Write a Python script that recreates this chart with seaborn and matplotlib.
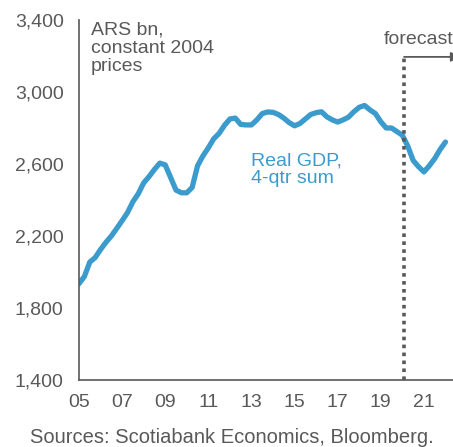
import matplotlib
matplotlib.use('Agg')
import matplotlib.pyplot as plt
import pandas as pd
import seaborn as sns
import numpy as np

# quarterly real GDP, 4-qtr sum, ARS bn (2005Q1 .. 2022Q1)
start_year = 2005.0
gdp = [1935, 1975, 2055, 2080, 2125, 2165, 2200, 2242, 2285, 2330,
       2390, 2435, 2495, 2530, 2570, 2605, 2595, 2525, 2455, 2440,
       2440, 2470, 2590, 2645, 2690, 2740, 2770, 2815, 2850, 2855,
       2820, 2817, 2817, 2845, 2880, 2889, 2887, 2875, 2855, 2830,
       2812, 2825, 2850, 2875, 2885, 2890, 2862, 2845, 2833, 2845,
       2860, 2890, 2915, 2925, 2900, 2880, 2835, 2800, 2800, 2780,
       2760, 2700, 2620, 2585, 2556, 2590, 2630, 2680, 2722]
forecast_start = 2020.08

xticks = [2005, 2007, 2009, 2011, 2013, 2015, 2017, 2019, 2021]
xtick_labels = ['05', '07', '09', '11', '13', '15', '17', '19', '21']
yticks = [1400, 1800, 2200, 2600, 3000, 3400]

df = pd.DataFrame({'year': start_year + 0.25 * np.arange(len(gdp)), 'gdp': gdp})

sns.set_theme(style='white')
plt.rcParams['font.family'] = ['Liberation Sans', 'DejaVu Sans']

grey = '#595959'
blue = '#3C9BCD'

fig = plt.figure(figsize=(4.53, 4.47), dpi=100)
ax = fig.add_axes([0.1744, 0.1499, 0.8256, 0.8054])

sns.lineplot(data=df, x='year', y='gdp', ax=ax, color=blue, linewidth=3.8)

# forecast marker (arrow head runs off the canvas, only its base shows)
ax.plot([forecast_start, forecast_start], [1400, 3190], color=grey,
        linestyle=(0, (1, 1.2)), linewidth=2.6)
ax.annotate('', xy=(2022.70, 3195), xytext=(forecast_start, 3195),
            annotation_clip=False,
            arrowprops=dict(arrowstyle='-|>', color=grey, lw=1.3,
                            mutation_scale=14, shrinkA=0, shrinkB=0))
ax.text(2019.15, 3290, 'forecast', color=grey, fontsize=14, va='center')

ax.text(2005.56, 3390, 'ARS bn,\nconstant 2004\nprices', color=grey,
        fontsize=14, va='top', linespacing=1.08)
ax.text(2013.0, 2665, 'Real GDP,\n4-qtr sum', color=blue,
        fontsize=14, va='top', linespacing=1.08)

ax.set_xlim(2005.0, 2022.35)
ax.set_ylim(1400, 3400)
ax.set_xticks(xticks)
ax.set_xticklabels(xtick_labels)
ax.set_yticks(yticks)
ax.set_yticklabels([f'{v:,}' for v in yticks])
ax.set_xlabel('')
ax.set_ylabel('')

for side in ['top', 'right']:
    ax.spines[side].set_visible(False)
for side in ['left', 'bottom']:
    ax.spines[side].set_color(grey)
    ax.spines[side].set_linewidth(1.2)
ax.tick_params(axis='both', direction='in', length=4, width=1.2, color=grey,
               labelcolor=grey, labelsize=14)
ax.tick_params(axis='y', pad=11)
ax.tick_params(axis='x', pad=10)

fig.text(0.066, 0.022, 'Sources: Scotiabank Economics, Bloomberg.',
         color=grey, fontsize=14.5, va='center')

fig.savefig('out.png', dpi=100)
plt.close(fig)
